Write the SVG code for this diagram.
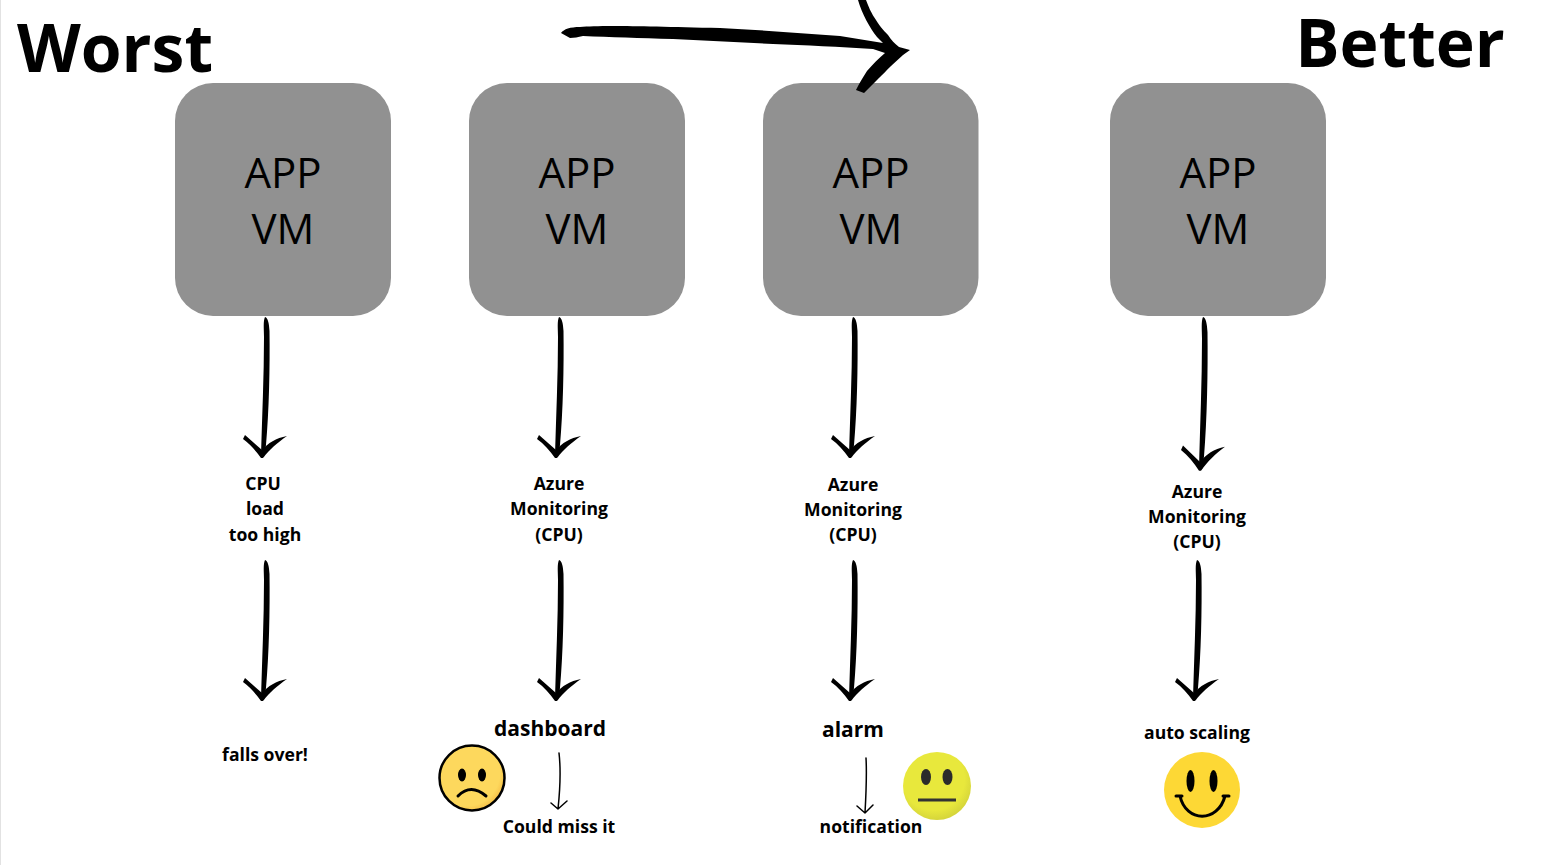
<svg xmlns="http://www.w3.org/2000/svg" xmlns:xlink="http://www.w3.org/1999/xlink" width="1555" height="865" viewBox="0 0 1555 865">
<style>
text{font-family:"Open Sans","Noto Sans","Liberation Sans",sans-serif;fill:#000;text-anchor:middle}
.title{font-size:66px;font-weight:700}
.vm{fill:#919191}
.big{font-size:42px;font-weight:400}
.lbl{font-size:17.6px;font-weight:700}
.lg{font-size:21px;font-weight:700}
.ink{fill:#000;stroke:none}
.thin{fill:none;stroke:#000;stroke-width:1.500;stroke-linecap:round;stroke-linejoin:round}
</style>
<defs>
<g id="arrow">
<path class="ink" d="M-1 0C2 1 3 6 3.500 14C4 50 3 95 0 128L-2 140L-5 138C-4 100 -2 60 -2 20C-2 12 -3 4 -1 0Z"/>
<path class="ink" d="M-21 118L-4 133C2 126 10 121 21 119C11 126 4 132 -3 141L-5 141C-10 134 -16 127 -23 122Z"/>
</g>
<radialGradient id="sadFill" cx="0.42" cy="0.42" r="0.62"><stop offset="0.82" stop-color="#fdd85d"/><stop offset="1" stop-color="#f5bd45"/></radialGradient>
<radialGradient id="neutralFill" cx="0.45" cy="0.4" r="0.65"><stop offset="0.7" stop-color="#e8e83c"/><stop offset="1" stop-color="#cfcf3a"/></radialGradient>
</defs>
<rect x="0" y="0" width="1" height="865" fill="#e2e2e2"/>
<text class="title" x="115" y="72">Worst</text>
<text class="title" x="1400" y="67">Better</text>
<g id="vm1"><rect class="vm" x="175" y="83" width="216" height="233" rx="38"/><text class="big" x="283" y="187.500">APP</text><text class="big" x="283" y="243.500">VM</text></g>
<g id="vm2"><rect class="vm" x="469" y="83" width="216" height="233" rx="38"/><text class="big" x="577" y="187.500">APP</text><text class="big" x="577" y="243.500">VM</text></g>
<g id="vm3"><rect class="vm" x="763" y="83" width="215.500" height="233" rx="38"/><text class="big" x="871" y="187.500">APP</text><text class="big" x="871" y="243.500">VM</text></g>
<g id="vm4"><rect class="vm" x="1110" y="83" width="216" height="233" rx="38"/><text class="big" x="1218" y="187.500">APP</text><text class="big" x="1218" y="243.500">VM</text></g>
<g id="connectors">
<path id="trend" class="ink" d="M561 33C564 29 570 27 580 27C600 25 640 26 720 28C760 30 800 33 840 36L883 43L877 37C870 28 862 14 858 0H866C869 8 871 12 874 17C879 25 883 30 888 35C891 40 895 44 899 47L910 50L903 55L891 66C886 71 882 75 878 79L864 93L856 90C859 84 863 77 867 71C873 64 879 58 885 53L873 49C840 47 805 45 773 44L673 39C640 38 610 37 583 36C578 37 574 38 570 38Z"/>
<use href="#arrow" x="266" y="317"/><use href="#arrow" x="266" y="560"/>
<use href="#arrow" x="560" y="317"/><use href="#arrow" x="560" y="560"/>
<use href="#arrow" x="854" y="317"/><use href="#arrow" x="854" y="560"/>
<use href="#arrow" transform="translate(1204 317) scale(1 1.09)"/><use href="#arrow" x="1198" y="560"/>
<path class="thin" d="M559 753C561 770 560 790 558 809M551 803L558 809L567 801"/>
<path class="thin" d="M866 758C867 775 866 795 865 813M857 806L865 813L873 805"/>
</g>
<g id="cpu"><text class="lbl" x="263" y="490">CPU</text><text class="lbl" x="265" y="515">load</text><text class="lbl" x="265" y="541">too high</text></g>
<g id="falls"><text class="lbl" x="265" y="761">falls over!</text></g>
<g id="mon2"><text class="lbl" x="559" y="490">Azure</text><text class="lbl" x="559" y="515">Monitoring</text><text class="lbl" x="559" y="541">(CPU)</text></g>
<g id="mon3"><text class="lbl" x="853" y="491">Azure</text><text class="lbl" x="853" y="516">Monitoring</text><text class="lbl" x="853" y="541">(CPU)</text></g>
<g id="mon4"><text class="lbl" x="1197" y="498">Azure</text><text class="lbl" x="1197" y="523">Monitoring</text><text class="lbl" x="1197" y="548">(CPU)</text></g>
<g id="dashboard"><text class="lg" x="550" y="736">dashboard</text></g>
<g id="miss"><text class="lbl" x="559" y="833">Could miss it</text></g>
<g id="alarm"><text class="lg" x="853" y="737">alarm</text></g>
<g id="notification"><text class="lbl" x="871" y="833">notification</text></g>
<g id="scaling"><text class="lbl" x="1197" y="739">auto scaling</text></g>
<g id="sad"><circle cx="472" cy="778" r="32.500" fill="url(#sadFill)" stroke="#000" stroke-width="2.500"/><ellipse cx="462" cy="775" rx="4" ry="6.500"/><ellipse cx="482" cy="775" rx="4" ry="6.500"/><path d="M458 796Q471 783 486 796" fill="none" stroke="#000" stroke-width="3" stroke-linecap="round"/></g>
<g id="neutral"><circle cx="937" cy="786" r="34" fill="url(#neutralFill)"/><ellipse cx="926" cy="777" rx="5" ry="8" fill="#2b2b2b"/><ellipse cx="947.500" cy="777" rx="5" ry="8" fill="#2b2b2b"/><path d="M918 800H956" stroke="#333" stroke-width="3"/></g>
<g id="smile"><circle cx="1202" cy="790" r="38" fill="#fdd835"/><ellipse cx="1190.500" cy="781" rx="4" ry="11"/><ellipse cx="1213.500" cy="781" rx="4" ry="11"/><path d="M1180 796C1186 823 1218 823 1225 796M1176 796H1182M1223 796H1229" fill="none" stroke="#000" stroke-width="3" stroke-linecap="round"/></g>
</svg>
